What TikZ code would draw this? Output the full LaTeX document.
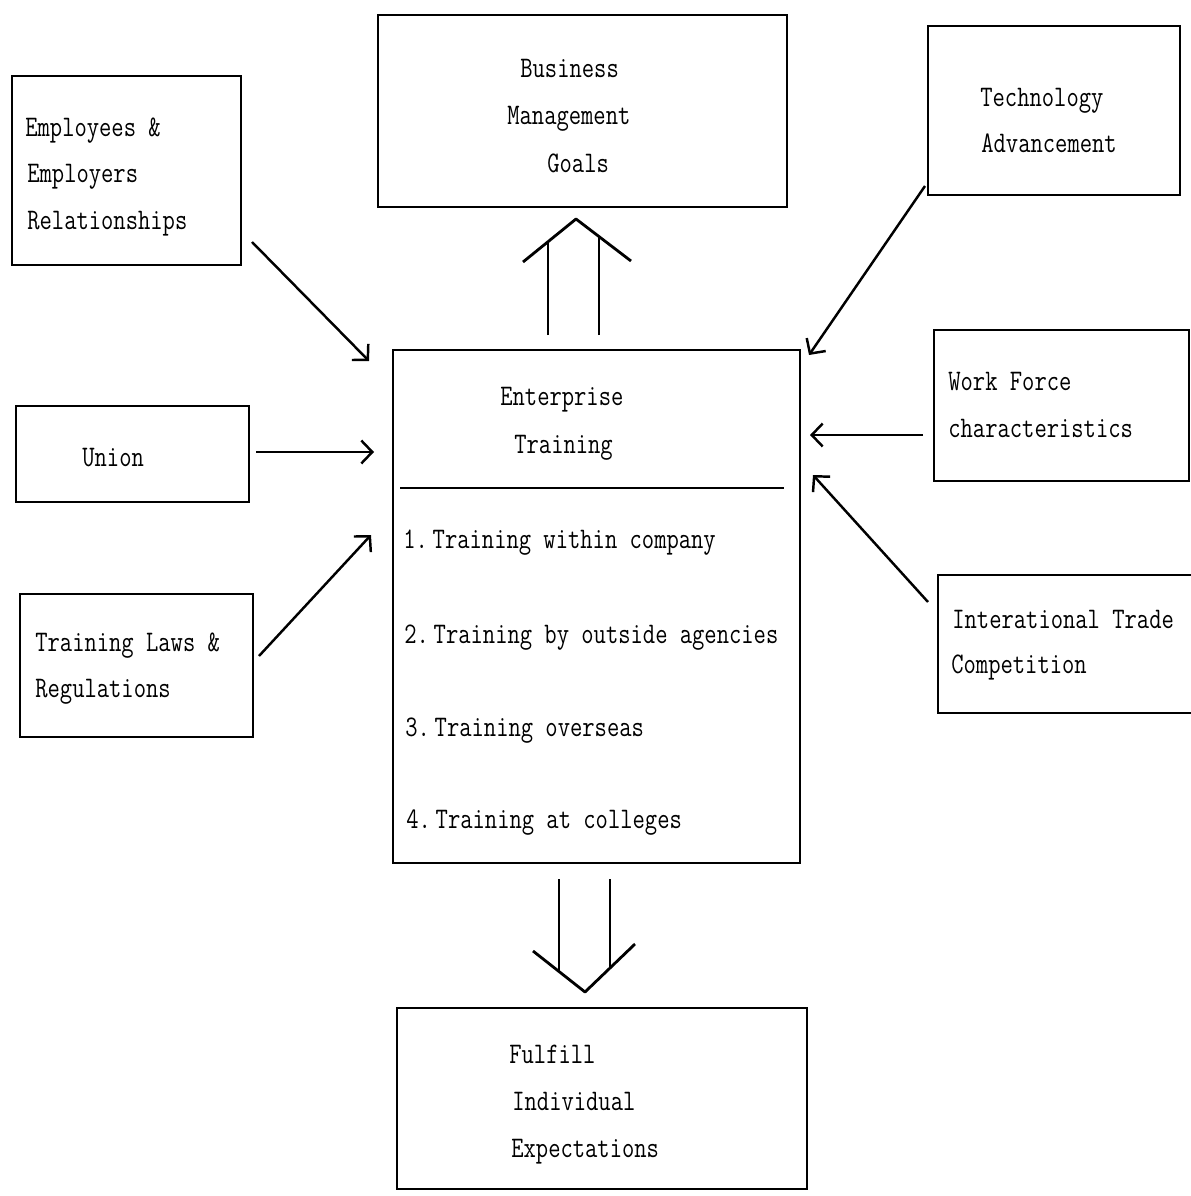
\documentclass[tikz,border=0pt]{standalone}
\usepackage{graphicx}
\usetikzlibrary{arrows.meta,fit}
\newcommand\tl[1]{\scalebox{0.8}[1]{#1}}
\tikzset{
  box/.style={draw, line width=1.2pt, inner sep=0pt},
  lbl/.style={anchor=base west, inner sep=0pt, font=\fontsize{17}{20}\selectfont\ttfamily},
  conn/.style={line width=1.4pt, -{Straight Barb[length=2.2mm,width=4.6mm,line width=1.4pt]}},
  bigarrow/.style={line width=1.6pt}
}
\begin{document}
\begin{tikzpicture}[x=0.02cm,y=-0.02cm]
\useasboundingbox (0,0) rectangle (1190,1196);
% boxes
\node[box, fit={(378,15) (787,207)}] (goals) {};
\node[box, fit={(12,76) (241,265)}] (emp) {};
\node[box, fit={(928,26) (1180,195)}] (tech) {};
\node[box, fit={(393,350) (800,863)}] (ent) {};
\node[box, fit={(16,406) (249,502)}] (union) {};
\node[box, fit={(934,330) (1189,481)}] (work) {};
\node[box, fit={(20,594) (253,737)}] (laws) {};
\node[box, fit={(938,575) (1200,713)}] (intl) {};
\node[box, fit={(397,1008) (807,1189)}] (ful) {};
% divider
\draw[line width=1.2pt] (400,488) -- (784,488);
% texts
\node[lbl] (t1) at (520,78) {\tl{Business}};
\node[lbl] (t2) at (507,125) {\tl{Management}};
\node[lbl] (t3) at (547,173) {\tl{Goals}};
\node[lbl] (t4) at (25,137) {\tl{Employees \&}};
\node[lbl] (t5) at (27,183) {\tl{Employers}};
\node[lbl] (t6) at (27,230) {\tl{Relationships}};
\node[lbl] (t7) at (980,107) {\tl{Technology}};
\node[lbl] (t8) at (981,153) {\tl{Advancement}};
\node[lbl] (t9) at (82,466) {\tl{Union}};
\node[lbl] (t10) at (500,405) {\tl{Enterprise}};
\node[lbl] (t11) at (514,453) {\tl{Training}};
\node[lbl] (t12) at (403,548) {\tl{1.\kern0.2em Training within company}};
\node[lbl] (t13) at (404,643) {\tl{2.\kern0.2em Training by outside agencies}};
\node[lbl] (t14) at (405,736) {\tl{3.\kern0.2em Training overseas}};
\node[lbl] (t15) at (406,828) {\tl{4.\kern0.2em Training at colleges}};
\node[lbl] (t16) at (948,390) {\tl{Work Force}};
\node[lbl] (t17) at (948,437) {\tl{characteristics}};
\node[lbl] (t18) at (35,651) {\tl{Training Laws \&}};
\node[lbl] (t19) at (35,697) {\tl{Regulations}};
\node[lbl] (t20) at (952,628) {\tl{Interational Trade}};
\node[lbl] (t21) at (951,673) {\tl{Competition}};
\node[lbl] (t22) at (509,1063) {\tl{Fulfill}};
\node[lbl] (t23) at (512,1110) {\tl{Individual}};
\node[lbl] (t24) at (511,1157) {\tl{Expectations}};
% connector end points
\coordinate (empS) at (252,242);  \coordinate (empE) at (369,361);
\coordinate (unS) at (256,452);   \coordinate (unE) at (374,452);
\coordinate (lawS) at (259,656);  \coordinate (lawE) at (371,535);
\coordinate (techS) at (925,186); \coordinate (techE) at (809,355);
\coordinate (workS) at (923,435); \coordinate (workE) at (810,435);
\coordinate (intS) at (928,602);  \coordinate (intE) at (813,475);
\draw[conn] (empS) -- (empE);
\draw[conn] (unS) -- (unE);
\draw[conn] (lawS) -- (lawE);
\draw[conn] (techS) -- (techE);
\draw[conn] (workS) -- (workE);
\draw[conn] (intS) -- (intE);
% big hollow arrow up
\draw[bigarrow] (548,335) -- (548,242);
\draw[bigarrow] (599,335) -- (599,237);
\draw[bigarrow, line join=round] (523,262) -- (576,219) -- (631,261);
% big hollow arrow down
\draw[bigarrow] (559,879) -- (559,971);
\draw[bigarrow] (610,879) -- (610,968);
\draw[bigarrow, line join=round] (533,951) -- (585,992) -- (635,944);
\end{tikzpicture}
\end{document}
